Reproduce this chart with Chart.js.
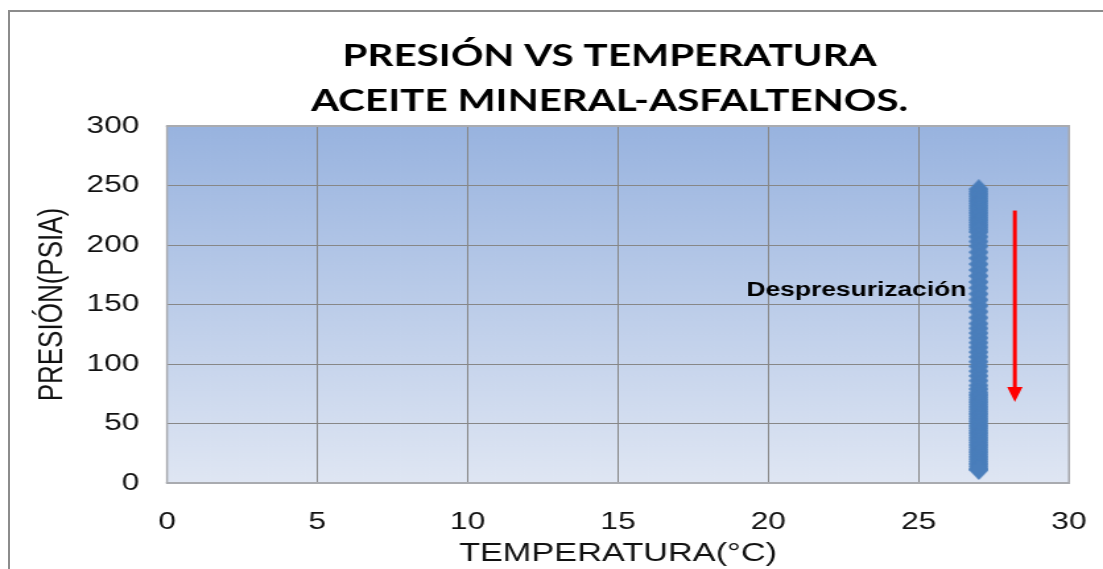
<!DOCTYPE html>
<html>
<head>
<meta charset="utf-8">
<title>Presión vs Temperatura</title>
<script src="https://cdn.jsdelivr.net/npm/chart.js@4.4.0/dist/chart.umd.min.js"></script>
<style>
  html, body { margin: 0; padding: 0; background: #ffffff; overflow: hidden; }
  #marco {
    position: absolute; left: 8px; top: 10px; width: 1300px; height: 800px;
    border-left: 2px solid #8c8c8c; border-top: 2px solid #8c8c8c;
  }
  #grafico { position: absolute; left: 0; top: 0; }
</style>
</head>
<body>
<div id="marco"></div>
<!-- the drawing buffer is narrower than its box, so the whole chart is widened horizontally -->
<canvas id="grafico" width="836" height="569" style="width:1103px;height:569px"></canvas>
<script>
// Pressure readings (psia) taken during depressurization at constant temperature
const presionPsia = [
  247, 245, 243, 241, 239, 237, 235, 233, 231, 229,
  227, 225, 223, 221, 219, 217, 215, 213, 211,
  207, 203, 199, 194, 189, 184, 179, 174, 169, 164,
  159, 154, 149, 144, 139, 134, 130, 126, 122, 118,
  114, 110, 106, 102, 98, 94, 90, 86, 82, 79, 76,
  74, 72, 70, 68, 66, 64, 62, 60, 58, 56,
  54, 52, 50, 48, 46, 44, 42, 40, 38, 36,
  34, 32, 30, 28, 26, 24, 22, 20, 18, 16,
  14, 12, 11
];
// Temperature (°C) for each reading
const temperaturaC = [
  27, 27, 27, 27, 27, 27, 27, 27, 27, 27,
  27, 27, 27, 27, 27, 27, 27, 27, 27,
  27, 27, 27, 27, 27, 27, 27, 27, 27, 27,
  27, 27, 27, 27, 27, 27, 27, 27, 27, 27,
  27, 27, 27, 27, 27, 27, 27, 27, 27, 27, 27,
  27, 27, 27, 27, 27, 27, 27, 27, 27, 27,
  27, 27, 27, 27, 27, 27, 27, 27, 27, 27,
  27, 27, 27, 27, 27, 27, 27, 27, 27, 27,
  27, 27, 27
];

// Axis tick values
const ticksTemperatura = [0, 5, 10, 15, 20, 25, 30];
const ticksPresion = [0, 50, 100, 150, 200, 250, 300];

// Depressurization arrow (temperature, start/end pressure) and its label
const flechaTemperatura = [28.2, 28.2];
const flechaPresion = [229, 68];
const etiquetaTexto = 'Despresurización';
const etiquetaPunto = [22.93, 162];

const FUENTE = '"Liberation Sans", Arial, sans-serif';

// Diamond marker, narrower than tall in buffer units
const rombo = document.createElement('canvas');
rombo.width = 15;
rombo.height = 20;
(function () {
  const c = rombo.getContext('2d');
  c.fillStyle = '#4a7ebb';
  c.beginPath();
  c.moveTo(7.5, 0);
  c.lineTo(15, 10);
  c.lineTo(7.5, 20);
  c.lineTo(0, 10);
  c.closePath();
  c.fill();
})();

const puntos = presionPsia.map((p, i) => ({ x: temperaturaC[i], y: p }));

// Gradient plot background + light frame around the plot area
const fondoArea = {
  id: 'fondoArea',
  afterLayout(chart) {
    // nudge the title block slightly left of the plot-area centre
    const t = chart.titleBlock;
    if (t) { t.left -= 6.4; t.right -= 6.4; }
  },
  beforeDraw(chart) {
    const { ctx, chartArea: a } = chart;
    const g = ctx.createLinearGradient(0, a.top, 0, a.bottom);
    g.addColorStop(0, '#98b3df');
    g.addColorStop(1, '#dfe6f3');
    ctx.save();
    ctx.fillStyle = g;
    ctx.fillRect(a.left, a.top, a.right - a.left, a.bottom - a.top);
    ctx.restore();
  },
  beforeDatasetsDraw(chart) {
    const { ctx, chartArea: a } = chart;
    ctx.save();
    ctx.strokeStyle = '#a9abb0';
    ctx.lineWidth = 2;
    ctx.beginPath();
    ctx.moveTo(a.left - 0.8, a.top); ctx.lineTo(a.right + 0.8, a.top);
    ctx.moveTo(a.left - 0.8, a.bottom); ctx.lineTo(a.right + 0.8, a.bottom);
    ctx.stroke();
    ctx.lineWidth = 1.5;
    ctx.beginPath();
    ctx.moveTo(a.left, a.top); ctx.lineTo(a.left, a.bottom);
    ctx.moveTo(a.right, a.top); ctx.lineTo(a.right, a.bottom);
    ctx.stroke();
    ctx.restore();
  }
};

// Red arrow and bold label placed in data coordinates
const anotaciones = {
  id: 'anotaciones',
  afterDatasetsDraw(chart) {
    const { ctx, scales: { x, y } } = chart;
    const ax = x.getPixelForValue(flechaTemperatura[0]);
    const y1 = y.getPixelForValue(flechaPresion[0]);
    const y2 = y.getPixelForValue(flechaPresion[1]);
    ctx.save();
    ctx.strokeStyle = '#ff0000';
    ctx.fillStyle = '#ff0000';
    ctx.lineWidth = 3;
    ctx.beginPath();
    ctx.moveTo(ax, y1);
    ctx.lineTo(ax, y2 - 12);
    ctx.stroke();
    ctx.beginPath();
    ctx.moveTo(ax - 5.8, y2 - 15);
    ctx.lineTo(ax + 5.8, y2 - 15);
    ctx.lineTo(ax, y2);
    ctx.closePath();
    ctx.fill();

    ctx.fillStyle = '#000000';
    ctx.font = 'bold 20px ' + FUENTE;
    ctx.textAlign = 'center';
    ctx.textBaseline = 'middle';
    ctx.fillText(etiquetaTexto, x.getPixelForValue(etiquetaPunto[0]), y.getPixelForValue(etiquetaPunto[1]));
    ctx.restore();
  }
};

new Chart(document.getElementById('grafico'), {
  type: 'scatter',
  data: {
    datasets: [{
      label: 'Presión',
      data: puntos,
      pointStyle: rombo,
      pointRadius: 8,
      backgroundColor: '#4a7ebb',
      borderColor: '#4a7ebb'
    }]
  },
  options: {
    responsive: false,
    devicePixelRatio: 1,
    animation: false,
    layout: { padding: { left: 0, right: 25.8, top: 0, bottom: 0 } },
    plugins: {
      legend: { display: false },
      tooltip: { enabled: false },
      title: {
        display: true,
        fullSize: false,
        text: ['PRESIÓN VS TEMPERATURA', 'ACEITE MINERAL-ASFALTENOS.'],
        color: '#000000',
        font: { family: 'Lato, "Open Sans", sans-serif', weight: 'bold', size: 30.6, lineHeight: 1.49 },
        padding: { top: 33, bottom: 1.9 }
      }
    },
    scales: {
      x: {
        type: 'linear',
        min: ticksTemperatura[0],
        max: ticksTemperatura[ticksTemperatura.length - 1],
        afterBuildTicks(s) { s.ticks = ticksTemperatura.map(v => ({ value: v })); },
        afterFit(s) { s.height = 86; s.paddingLeft = 0; s.paddingRight = 0; },
        ticks: { padding: 25, color: '#111111', font: { family: FUENTE, size: 24 } },
        grid: { color: '#878787', lineWidth: 1, drawTicks: false },
        border: { display: false },
        title: {
          display: true,
          text: 'TEMPERATURA(°C)',
          color: '#111111',
          font: { family: FUENTE, size: 26 },
          padding: { top: 0, bottom: 0 }
        }
      },
      y: {
        type: 'linear',
        min: ticksPresion[0],
        max: ticksPresion[ticksPresion.length - 1],
        afterBuildTicks(s) { s.ticks = ticksPresion.map(v => ({ value: v })); },
        afterFit(s) { s.width = 126.6; },
        ticks: { padding: 21, color: '#111111', font: { family: FUENTE, size: 24 } },
        grid: { color: '#878787', lineWidth: 1, drawTicks: false },
        border: { display: false },
        title: {
          display: true,
          text: 'PRESIÓN(PSIA)',
          color: '#111111',
          font: { family: FUENTE, size: 26 },
          padding: { top: 24, bottom: 0 }
        }
      }
    }
  },
  plugins: [fondoArea, anotaciones]
});
</script>
</body>
</html>
